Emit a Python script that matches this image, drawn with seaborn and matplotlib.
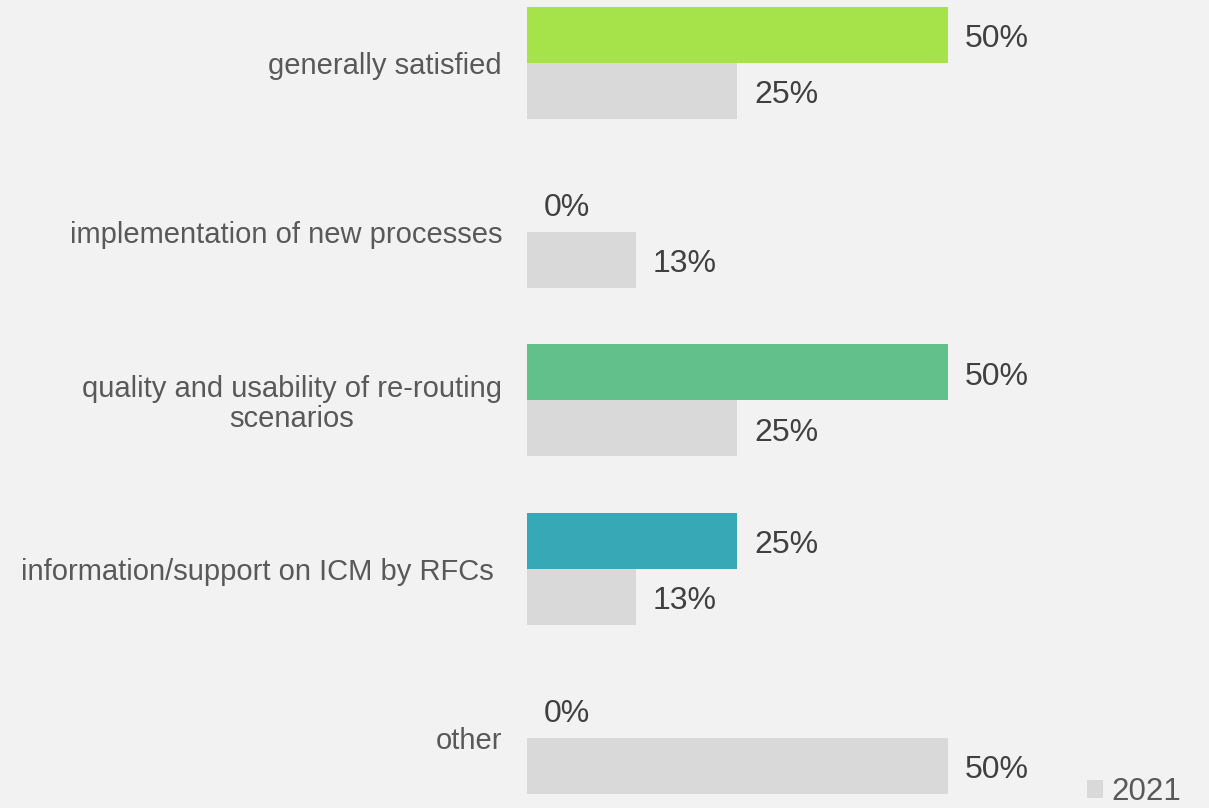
import matplotlib
matplotlib.use("Agg")
import matplotlib.pyplot as plt
import seaborn as sns
import pandas as pd
from matplotlib.patches import Patch

# Survey answers: share of respondents per topic
categories = [
    "generally satisfied",
    "implementation of new processes",
    "quality and usability of re-routing\nscenarios",
    "information/support on ICM by RFCs ",
    "other",
]
share_2022 = [50, 0, 50, 25, 0]
share_2021 = [25, 13, 25, 13, 50]
years = ["2022", "2021"]

bar_colors_2022 = ["#a6e34a", "#a6e34a", "#62c08b", "#37a8b5", "#37a8b5"]
grey_2021 = "#d9d9d9"
bg = "#f2f2f2"

df = pd.DataFrame({
    "topic": categories * 2,
    "share": share_2022 + share_2021,
    "year": [years[0]] * len(categories) + [years[1]] * len(categories),
})

sns.set_theme(style="white")
plt.rcParams["font.family"] = ["Liberation Sans", "DejaVu Sans"]

fig = plt.figure(figsize=(12.09, 8.08), dpi=100, facecolor=bg)
ax = fig.add_axes([527 / 1209, 0, (1200 - 527) / 1209, 1])
ax.set_facecolor(bg)

sns.barplot(
    data=df, y="topic", x="share", hue="year", hue_order=years,
    order=categories, palette={years[0]: "#a6e34a", years[1]: grey_2021},
    orient="h", width=0.664, gap=0, legend=False, ax=ax,
    saturation=1, linewidth=0,
)

# colour each current-year bar by topic
for patch, col in zip(ax.containers[0], bar_colors_2022):
    patch.set_facecolor(col)

for cont in ax.containers:
    texts = ax.bar_label(cont, labels=[f"{v:.0f}%" for v in cont.datavalues],
                         padding=12, fontsize=23, color="#404040")
    for t in texts:
        t.set_va("center")
        x, y = t.xyann
        t.xyann = (x, y - 3)

ax.set_xlim(0, 80)
ax.set_ylim(4.415, -0.373)
ax.set_xlabel("")
ax.set_ylabel("")
ax.set_xticks([])
ax.tick_params(axis="y", length=0, pad=18, labelsize=21, labelcolor="#595959")
for lab in ax.get_yticklabels():
    lab.set_multialignment("center")
    lab.set_linespacing(1.05)
for s in ax.spines.values():
    s.set_visible(False)

fig.legend(
    handles=[Patch(facecolor=grey_2021, edgecolor="none")], labels=["2021"],
    loc="lower right", bbox_to_anchor=(1.0, -0.034), frameon=False,
    fontsize=22.5, handlelength=0.52, handleheight=0.52, handletextpad=0.25,
    labelcolor="#595959",
)

fig.savefig("out.png", dpi=100, facecolor=bg)
